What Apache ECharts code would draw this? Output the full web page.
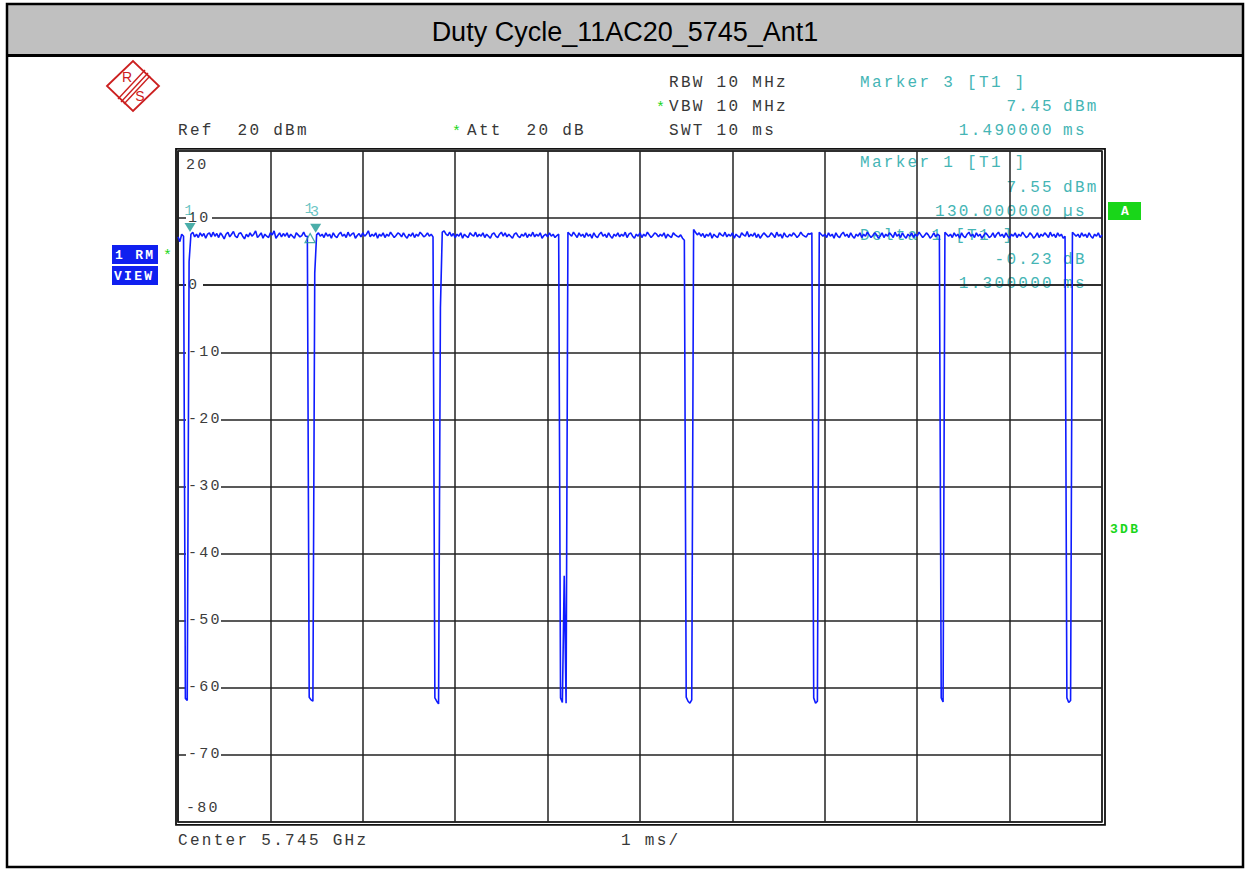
<!DOCTYPE html>
<html><head><meta charset="utf-8">
<script src="https://cdn.jsdelivr.net/npm/echarts@6/dist/echarts.min.js"></script>
<style>
html,body{margin:0;padding:0;background:#fff;}
#c{width:1245px;height:869px;}
#c svg text[style*="Liberation Mono"]{letter-spacing:2.3px;}
</style></head><body><div id="c"></div><script>
// ---------- data ----------
const TITLE = 'Duty Cycle_11AC20_5745_Ant1';
const SPAN_MS = 10;            // 1 ms/div, 10 divisions
const X_STEP_MS = 1;
const Y_MIN = -80, Y_MAX = 20, Y_STEP = 10;
// trace 1 (RMS, view), 501 sweep points over 10 ms, dBm
const traceDbm = [
 7.2, 6.5, 7.6, 7.3, -61.6, -61.9, 3.5, 7.6, 7.9, 7.2,
 7.6, 7.1, 7.8, 7.3, 7.7, 7.0, 7.6, 7.8, 7.2, 7.9,
 7.3, 7.7, 7.1, 7.8, 7.4, 6.9, 7.6, 7.9, 7.2, 7.6,
 8.0, 7.3, 7.1, 7.7, 7.8, 7.3, 6.9, 7.6, 7.2, 7.8,
 7.3, 7.6, 8.1, 7.1, 7.4, 7.8, 7.0, 7.6, 7.3, 7.1,
 7.8, 7.5, 8.1, 7.0, 7.4, 7.8, 7.2, 7.7, 7.3, 7.8,
 7.1, 7.6, 7.3, 7.0, 7.8, 7.5, 7.2, 7.4, 7.9, 7.3,
 7.3, -61.4, -61.8, -62.0, 1.8, 7.5, 7.8, 7.3, 7.6, 7.1,
 7.8, 7.3, 7.6, 7.0, 7.8, 7.3, 7.1, 7.6, 7.9, 7.3,
 7.6, 7.1, 7.9, 7.3, 7.6, 7.8, 7.0, 7.4, 7.7, 7.2,
 7.8, 7.3, 7.6, 8.1, 7.2, 7.6, 7.3, 7.8, 7.0, 7.6,
 7.3, 7.8, 7.1, 7.6, 7.3, 7.9, 7.5, 7.1, 7.4, 7.8,
 7.6, 7.2, 7.8, 7.3, 7.0, 7.6, 7.3, 7.8, 7.1, 7.6,
 7.3, 7.9, 7.6, 7.2, 7.4, 7.8, 7.3, 7.6, 7.2, -61.5,
 -62.0, -62.4, -3.4, 7.9, 8.1, 7.6, 7.4, 7.9, 7.3, 7.7,
 7.1, 7.6, 7.3, 7.8, 7.0, 7.6, 7.3, 7.1, 7.8, 7.5,
 7.3, 7.9, 7.2, 7.6, 7.3, 7.8, 7.1, 7.6, 7.3, 7.0,
 7.6, 7.8, 7.3, 7.1, 7.6, 7.9, 7.3, 7.8, 7.2, 7.6,
 7.3, 7.0, 7.6, 7.8, 7.3, 7.1, 7.6, 7.3, 7.8, 7.1,
 7.6, 7.3, 7.9, 7.2, 7.6, 7.3, 7.8, 7.0, 7.4, 7.6,
 7.2, 7.8, 7.3, 7.6, 7.1, 7.4, 7.6, -61.5, -62.2, -43.3,
 -62.3, 7.9, 7.6, 7.3, 7.9, 7.5, 7.1, 7.8, 7.3, 7.6,
 7.1, 7.8, 7.3, 7.6, 7.0, 7.8, 7.3, 7.1, 7.6, 7.9,
 7.3, 7.6, 7.1, 7.8, 7.3, 7.0, 7.6, 7.3, 7.8, 7.2,
 7.6, 7.3, 7.9, 7.1, 7.6, 7.8, 7.3, 7.0, 7.6, 7.3,
 7.8, 7.1, 7.6, 7.3, 7.9, 7.5, 7.1, 7.4, 7.8, 7.6,
 7.2, 7.6, 7.3, 7.8, 7.0, 7.6, 7.3, 7.1, 7.8, 7.5,
 7.3, 7.2, 7.5, 7.0, 6.7, -61.4, -62.0, -62.3, -61.8, 8.3,
 7.9, 7.5, 7.8, 7.3, 7.7, 7.1, 7.6, 7.3, 7.8, 7.0,
 7.6, 7.3, 7.1, 7.8, 7.5, 7.3, 7.9, 7.2, 7.6, 7.3,
 7.8, 7.0, 7.6, 7.3, 7.1, 7.8, 7.5, 7.3, 8.0, 7.2,
 7.6, 7.3, 7.8, 7.1, 7.6, 7.0, 7.4, 7.8, 7.5, 7.2,
 7.3, 7.8, 7.5, 7.1, 7.9, 7.3, 7.6, 7.0, 7.8, 7.3,
 7.2, 7.6, 7.3, 7.8, 7.5, 7.1, 7.4, 7.9, 7.5, 7.3,
 7.2, 7.7, 7.6, 7.8, -61.5, -62.3, -62.0, 7.9, 7.6, 7.3,
 7.6, 7.1, 7.8, 7.3, 7.6, 7.0, 7.8, 7.3, 7.1, 7.6,
 7.9, 7.3, 7.6, 7.1, 7.8, 7.3, 7.0, 7.6, 7.3, 7.8,
 7.1, 7.6, 7.3, 7.9, 7.5, 7.1, 7.4, 7.8, 7.5, 7.0,
 7.3, 7.8, 7.1, 7.6, 7.3, 7.8, 7.5, 7.1, 7.9, 7.3,
 7.6, 7.1, 7.8, 7.3, 7.0, 7.6, 7.3, 7.8, 7.1, 7.6,
 7.3, 7.9, 7.5, 7.1, 7.4, 7.8, 7.5, 7.0, 7.3, 7.8,
 7.2, 7.6, 7.4, -61.5, -62.1, 7.9, 7.6, 7.3, 7.6, 7.1,
 7.8, 7.3, 7.6, 7.0, 7.8, 7.3, 7.1, 7.6, 7.9, 7.3,
 7.6, 7.1, 7.8, 7.3, 7.6, 7.0, 7.4, 7.8, 7.5, 7.1,
 7.3, 7.8, 7.1, 7.6, 7.9, 7.3, 7.6, 7.1, 7.8, 7.3,
 7.0, 7.6, 7.3, 7.8, 7.1, 7.6, 7.3, 7.9, 7.5, 7.1,
 7.3, 7.8, 7.5, 7.0, 7.3, 7.8, 7.1, 7.6, 7.3, 7.8,
 7.5, 7.1, 7.9, 7.3, 7.6, 7.1, 7.8, 7.3, 7.6, 7.0,
 7.3, -61.5, -62.2, -61.9, 7.9, 7.6, 7.3, 7.6, 7.1, 7.8,
 7.3, 7.6, 7.1, 7.8, 7.3, 7.0, 7.6, 7.3, 7.8, 7.1,
 7.5
];
// markers
const markerNames = ['1', '3'];
const markerTimesMs = [0.13, 1.49];
const markerLevelsDbm = [7.55, 7.45];
const deltaNames = ['1'];
const deltaTimesMs = [1.43];
const deltaLevelsDbm = [7.32];

// header / footer texts
const hdrRBW = 'RBW 10 MHz', hdrVBW = 'VBW 10 MHz', hdrSWT = 'SWT 10 ms';
const hdrRef = 'Ref  20 dBm', hdrAtt = 'Att  20 dB';
const ftrCenter = 'Center 5.745 GHz', ftrSpan = '1 ms/';
const mk3Title = 'Marker 3 [T1 ]', mk3Level = ['7.45', 'dBm'], mk3Time = ['1.490000', 'ms'];
const mk1Title = 'Marker 1 [T1 ]', mk1Level = ['7.55', 'dBm'], mk1Time = ['130.000000', 'µs'];
const dl1Title = 'Delta 1 [T1 ]', dl1Level = ['-0.23', 'dB'], dl1Time = ['1.300000', 'ms'];
const traceTag = ['1 RM', 'VIEW'];
const sideA = 'A', side3dB = '3DB';

// ---------- chart ----------
const MONO = 'Liberation Mono';
const TEAL = '#45b5b5';
const TEAL_DARK = '#1d9a94';
const GREEN = '#19d619';
const BLUE = '#0f1cff';
const TXT = '#383838';
const N = traceDbm.length;
const traceData = traceDbm.map((v, i) => [i * SPAN_MS / (N - 1), v]);

function t(x, y, text, o) {
  o = o || {};
  return { type: 'text', x: x, y: y, z: o.z == null ? 5 : o.z,
    style: { text: text, fill: o.fill || TXT, font: (o.weight || 'normal') + ' ' + (o.size || 16) + 'px "' + (o.family || MONO) + '"',
      textAlign: o.align || 'left', textVerticalAlign: 'middle' } };
}
const numX = 1054, unitX = 1063;
const LOGO = '#cc2020';

const graphic = [
  { type: 'rect', shape: { x: 7, y: 4, width: 1236, height: 52 }, style: { fill: '#c0c0c0' }, z: 1 },
  { type: 'line', shape: { x1: 7, y1: 55.5, x2: 1243, y2: 55.5 }, style: { stroke: '#000', lineWidth: 3 }, z: 2 },
  { type: 'rect', shape: { x: 7, y: 4, width: 1236, height: 863 }, style: { fill: 'none', stroke: '#000', lineWidth: 2.5 }, z: 2 },
  t(625, 32, TITLE, { family: 'Liberation Sans', size: 27, fill: '#000', align: 'center' }),
  // plot outer frame
  { type: 'rect', shape: { x: 176, y: 148.8, width: 929, height: 676 }, style: { fill: 'none', stroke: '#111', lineWidth: 1.8 }, z: 3 },
  // R&S logo
  { type: 'polygon', shape: { points: [[107, 86], [133, 61], [159, 86], [133, 111]] }, style: { fill: 'none', stroke: LOGO, lineWidth: 1.8 } },
  { type: 'line', shape: { x1: 118, y1: 99, x2: 145, y2: 70 }, style: { stroke: LOGO, lineWidth: 1.4 } },
  { type: 'line', shape: { x1: 121, y1: 102, x2: 148, y2: 73 }, style: { stroke: LOGO, lineWidth: 1.4 } },
  { type: 'line', shape: { x1: 124, y1: 104, x2: 150, y2: 76 }, style: { stroke: LOGO, lineWidth: 1.4 } },
  t(127, 77, 'R', { family: 'Liberation Sans', size: 14, fill: LOGO, align: 'center' }),
  t(140, 96, 'S', { family: 'Liberation Sans', size: 14, fill: LOGO, align: 'center' }),
  // header
  t(669, 83, hdrRBW),
  t(656, 108, '*', { fill: GREEN, size: 15 }),
  t(669, 107, hdrVBW),
  t(669, 131, hdrSWT),
  t(178, 131, hdrRef),
  t(452, 132, '*', { fill: GREEN, size: 15 }),
  t(467, 131, hdrAtt),
  t(860, 83, mk3Title, { fill: TEAL }),
  t(numX, 107, mk3Level[0], { fill: TEAL, align: 'right' }), t(unitX, 107, mk3Level[1], { fill: TEAL }),
  t(numX, 131, mk3Time[0], { fill: TEAL, align: 'right' }), t(unitX, 131, mk3Time[1], { fill: TEAL }),
  t(860, 163, mk1Title, { fill: TEAL, z: 0 }),
  t(numX, 188, mk1Level[0], { fill: TEAL, align: 'right', z: 0 }), t(unitX, 188, mk1Level[1], { fill: TEAL, z: 0 }),
  t(numX, 212, mk1Time[0], { fill: TEAL, align: 'right', z: 0 }), t(unitX, 212, mk1Time[1], { fill: TEAL, z: 0 }),
  t(860, 236, dl1Title, { fill: TEAL, z: 0 }),
  t(numX, 260, dl1Level[0], { fill: TEAL, align: 'right', z: 0 }), t(unitX, 260, dl1Level[1], { fill: TEAL, z: 0 }),
  t(numX, 284, dl1Time[0], { fill: TEAL, align: 'right', z: 0 }), t(unitX, 284, dl1Time[1], { fill: TEAL, z: 0 }),
  // footer
  t(178, 841, ftrCenter),
  t(621, 841, ftrSpan),
  // left trace tag
  { type: 'rect', shape: { x: 112, y: 245, width: 46, height: 19 }, style: { fill: '#1020f0' } },
  t(115, 255, traceTag[0], { fill: '#fff', weight: 'bold', size: 13 }),
  { type: 'rect', shape: { x: 112, y: 266, width: 46, height: 19 }, style: { fill: '#1020f0' } },
  t(114, 276, traceTag[1], { fill: '#fff', weight: 'bold', size: 13 }),
  t(163, 256, '*', { fill: GREEN, size: 15 }),
  // right side tags
  { type: 'rect', shape: { x: 1108, y: 202, width: 33, height: 18 }, style: { fill: GREEN } },
  t(1126, 211, sideA, { fill: '#fff', weight: 'bold', size: 13, align: 'center' }),
  t(1110, 529, side3dB, { fill: GREEN, weight: 'bold', size: 13 })
];

const chart = echarts.init(document.getElementById('c'), null, { renderer: 'svg', width: 1245, height: 869 });
chart.setOption({
  animation: false,
  backgroundColor: '#fff',
  graphic: graphic,
  grid: { left: 178, right: 143, top: 151, bottom: 47, show: true, borderColor: '#222', borderWidth: 1.5, backgroundColor: 'transparent' },
  xAxis: {
    type: 'value', min: 0, max: SPAN_MS, interval: X_STEP_MS,
    axisLine: { show: true, lineStyle: { color: '#222', width: 1.5 } },
    axisTick: { show: false }, axisLabel: { show: false },
    splitLine: { show: true, lineStyle: { color: '#222', width: 1.5 } }
  },
  yAxis: {
    type: 'value', min: Y_MIN, max: Y_MAX, interval: Y_STEP,
    axisLine: { show: true, lineStyle: { color: '#222', width: 1.5 } },
    axisTick: { show: false },
    splitLine: { show: true, lineStyle: { color: '#222', width: 1.5 } },
    axisLabel: {
      inside: true, margin: 8, color: '#3c3c3c', fontFamily: MONO, fontSize: 15,
      formatter: v => v === Y_MAX ? '{t|' + v + '}' : v === Y_MIN ? '{b|' + v + '}' : '{m|' + v + '}',
      rich: {
        t: { padding: [28, 0, 0, 0], fontFamily: MONO, fontSize: 15, color: '#3c3c3c' },
        b: { padding: [0, 0, 28, 0], fontFamily: MONO, fontSize: 15, color: '#3c3c3c' },
        m: { backgroundColor: '#fff', padding: [1, 6, 1, 2], fontFamily: MONO, fontSize: 15, color: '#3c3c3c' }
      }
    },
    z: 1
  },
  series: [
    {
      type: 'line', data: traceData, showSymbol: false, symbol: 'none', z: 3,
      lineStyle: { color: BLUE, width: 1.6 }, itemStyle: { color: BLUE }
    },
    {
      type: 'scatter', z: 4,
      data: markerTimesMs.map((x, i) => ({ value: [x, markerLevelsDbm[i]], name: markerNames[i] })),
      symbol: 'triangle', symbolRotate: 180, symbolSize: [11, 9], symbolOffset: [0, -7],
      itemStyle: { color: TEAL_DARK },
      label: { show: true, position: 'top', distance: 4, formatter: p => p.name, color: TEAL, fontFamily: MONO, fontSize: 15 }
    },
    {
      type: 'scatter', z: 4,
      data: deltaTimesMs.map((x, i) => ({ value: [x, deltaLevelsDbm[i]], name: deltaNames[i] })),
      symbol: 'triangle', symbolSize: [10, 9], symbolOffset: [0, 2],
      itemStyle: { color: 'rgba(0,0,0,0)', borderColor: TEAL_DARK, borderWidth: 1.3 },
      label: { show: true, position: 'top', distance: 16, formatter: p => p.name, color: TEAL, fontFamily: MONO, fontSize: 15 }
    }
  ]
});
</script></body></html>
